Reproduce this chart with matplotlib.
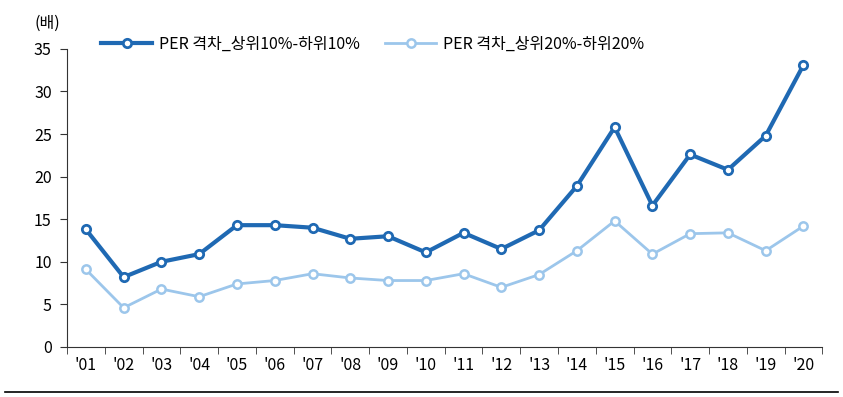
import matplotlib.pyplot as plt
import numpy as np

plt.rcParams['font.family'] = ['Noto Sans CJK KR', 'DejaVu Sans']

years = ["'01", "'02", "'03", "'04", "'05", "'06", "'07", "'08", "'09", "'10",
         "'11", "'12", "'13", "'14", "'15", "'16", "'17", "'18", "'19", "'20"]
gap_10 = [13.8, 8.2, 10.0, 10.9, 14.3, 14.3, 14.0, 12.7, 13.0, 11.1,
          13.4, 11.5, 13.7, 18.9, 25.8, 16.6, 22.6, 20.8, 24.8, 33.1]
gap_20 = [9.1, 4.6, 6.8, 5.9, 7.4, 7.8, 8.6, 8.1, 7.8, 7.8,
          8.6, 7.0, 8.5, 11.3, 14.8, 10.9, 13.3, 13.4, 11.3, 14.2]

dark = '#1f69b3'
light = '#9cc6eb'

fig = plt.figure(figsize=(8.43, 3.97), dpi=100)
ax = fig.add_axes([0.0795, 0.126, 0.896, 0.751])

x = np.arange(len(years))
ax.plot(x, gap_10, color=dark, lw=3, marker='o', ms=6, mfc='white',
        mec=dark, mew=2, label='PER 격차_상위10%-하위10%', zorder=3)
ax.plot(x, gap_20, color=light, lw=2, marker='o', ms=6, mfc='white',
        mec=light, mew=1.8, label='PER 격차_상위20%-하위20%', zorder=2)

ax.set_xlim(-0.5, len(years) - 0.5)
ax.set_ylim(0, 35)
ax.set_yticks(range(0, 36, 5))
ax.set_xticks(x)
ax.set_xticklabels(years)
ax.set_xticks(np.arange(-0.5, len(years), 1), minor=True)
ax.tick_params(axis='x', which='major', length=0, pad=7, labelsize=11.5)
ax.tick_params(axis='x', which='minor', length=5, color='#333333')
ax.tick_params(axis='y', length=5, pad=6, labelsize=11.5, color='#333333')

for s in ['top', 'right']:
    ax.spines[s].set_visible(False)
for s in ['left', 'bottom']:
    ax.spines[s].set_color('#333333')

fig.text(0.041, 0.94, '(배)', fontsize=11.5, ha='left', va='center')

ax.legend(loc='lower left', bbox_to_anchor=(0.037, 0.965), ncol=2, frameon=False,
          fontsize=11.5, handlelength=3.2, columnspacing=1.6, handletextpad=0.4,
          borderaxespad=0)

fig.add_artist(plt.Line2D([0.006, 0.994], [0.013, 0.013], color='black', lw=1.2,
                          transform=fig.transFigure))

fig.savefig('out.png', dpi=100)
